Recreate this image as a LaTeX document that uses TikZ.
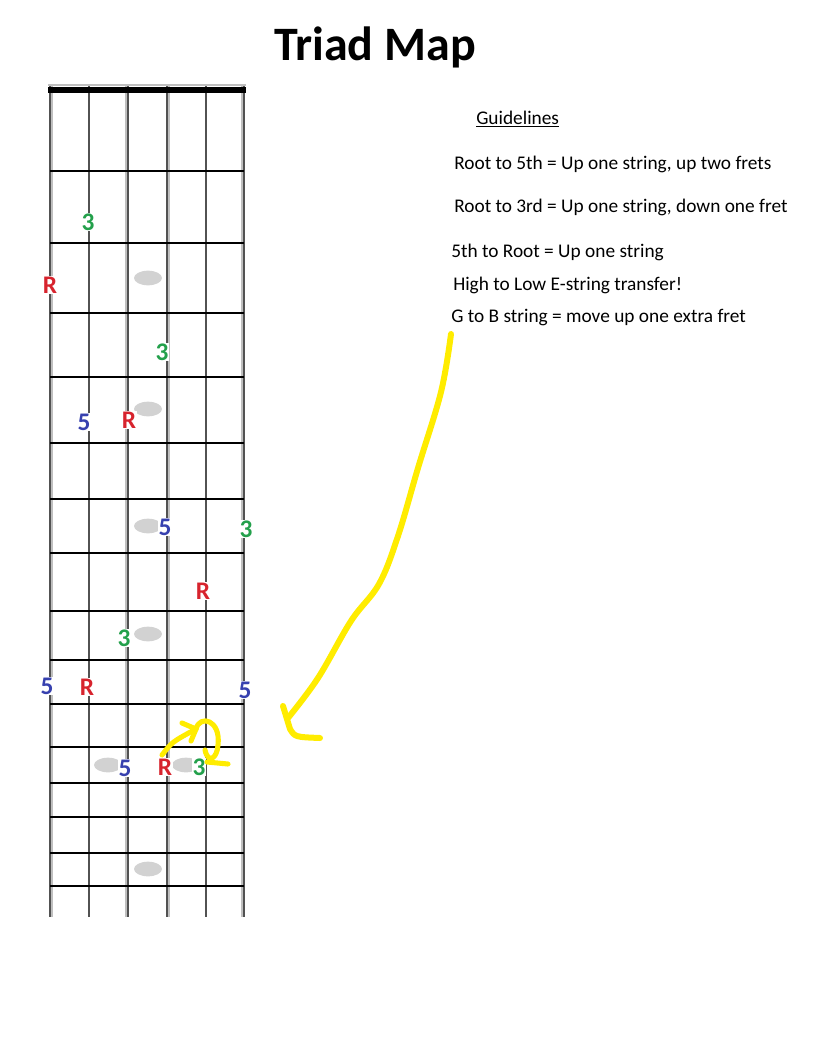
\documentclass[tikz,border=0pt]{standalone}
\usepackage{fontspec}
\setmainfont{Carlito}
\usetikzlibrary{shapes.geometric}
\definecolor{rootred}{RGB}{215,35,45}
\definecolor{thirdgreen}{RGB}{35,160,75}
\definecolor{fifthblue}{RGB}{55,65,175}
\definecolor{marker}{RGB}{255,236,0}
\begin{document}
\begin{tikzpicture}[x=0.75pt, y=-0.75pt,
  note/.style={font=\bfseries\fontsize{19}{19}\selectfont, fill=white, inner sep=0.8pt},
  root/.style={note, text=rootred},
  third/.style={note, text=thirdgreen},
  fifth/.style={note, text=fifthblue},
  rule/.style={anchor=base west, font=\fontsize{14.5}{16}\selectfont, inner sep=0},
  inlay/.style={ellipse, fill=gray!35, minimum width=21pt, minimum height=11pt, inner sep=0},
  wire/.style={draw=black!68, line width=1.9pt},
  shade/.style={draw=gray!50, line width=1.5pt},
  highlight/.style={marker, line width=4.5pt, line cap=round, line join=round}]
\useasboundingbox (0,0) rectangle (816,1056);

\node[anchor=base, font=\bfseries\fontsize{36}{40}\selectfont](title) at (375, 61) {Triad Map};

% strings
\draw[shade] (52.2, 85) -- (52.2, 917);
\draw[shade] (125.8, 85) -- (125.8, 917);
\draw[shade] (169.2, 85) -- (169.2, 917);
\draw[shade] (241.8, 85) -- (241.8, 917);
\draw[wire] (50, 85) -- (50, 917);
\draw[wire] (89, 85) -- (89, 917);
\draw[wire] (128, 85) -- (128, 917);
\draw[wire] (167, 85) -- (167, 917);
\draw[wire] (206, 85) -- (206, 917);
\draw[wire] (244, 85) -- (244, 917);

% nut and frets
\draw[gray!50, line width=2pt] (48, 85) -- (246, 85);
\draw[line width=4.8pt] (48, 90) -- (246, 90);
\foreach \y in {171,243,313,377,443,499,553,611,660,704,747,783,817,853,886}
  \draw[black, line width=1.9pt] (50, \y) -- (244, \y);

\node[inlay](dot3) at (148, 278) {};
\node[inlay](dot5) at (148, 409) {};
\node[inlay](dot7) at (148, 526) {};
\node[inlay](dot9) at (148, 634) {};
\node[inlay](dot12a) at (108, 765) {};
\node[inlay](dot12b) at (186, 765) {};
\node[inlay](dot15) at (148, 869) {};

\node[third](t1) at (88, 222) {3};
\node[root](r1) at (50, 285) {R};
\node[third](t2) at (162, 352) {3};
\node[fifth](f1) at (84, 422) {5};
\node[root](r2) at (129, 420) {R};
\node[fifth](f2) at (165, 527) {5};
\node[third](t3) at (246, 529) {3};
\node[root](r3) at (203, 591) {R};
\node[third](t4) at (124, 638) {3};
\node[fifth](f3) at (47, 686) {5};
\node[root](r4) at (87, 687) {R};
\node[fifth](f4) at (245, 690) {5};
\node[fifth](f5) at (125, 768) {5};
\node[root](r5) at (165, 767) {R};
\node[third](t5) at (199, 767) {3};

\node[rule](head) at (476, 124) {\underline{Guidelines}};
\node[rule](g1) at (454, 169) {Root to 5th = Up one string, up two frets};
\node[rule](g2) at (454, 212) {Root to 3rd = Up one string, down one fret};
\node[rule](g3) at (451, 257) {5th to Root = Up one string};
\node[rule](g4) at (453, 290) {High to Low E-string transfer!};
\node[rule](g5) at (451, 322) {G to B string = move up one extra fret};

% yellow marks
\coordinate (tail) at (451, 334);
\coordinate (tip) at (288, 718);
\draw[highlight] plot[smooth, tension=0.6] coordinates {(tail) (441, 392) (418, 468) (398, 536) (379, 584) (351, 621) (318, 678) (tip)};
\draw[highlight] (283, 706) -- (290, 729) .. controls (295, 737) .. (320, 738);

\coordinate (curlstart) at (162, 755);
\coordinate (curltip) at (196, 729);
\draw[highlight, line width=3.8pt] (curlstart) .. controls (172, 742) .. (curltip);
\draw[highlight, line width=3.8pt] (182, 723) -- (curltip) -- (191, 741);
\draw[highlight, line width=3.8pt] (curltip) .. controls (200, 714) and (221, 720) .. (218, 745)
  .. controls (217, 759) and (208, 764) .. (205, 750);
\draw[highlight, line width=3.8pt] (207, 762) -- (228, 764);

\end{tikzpicture}
\end{document}
